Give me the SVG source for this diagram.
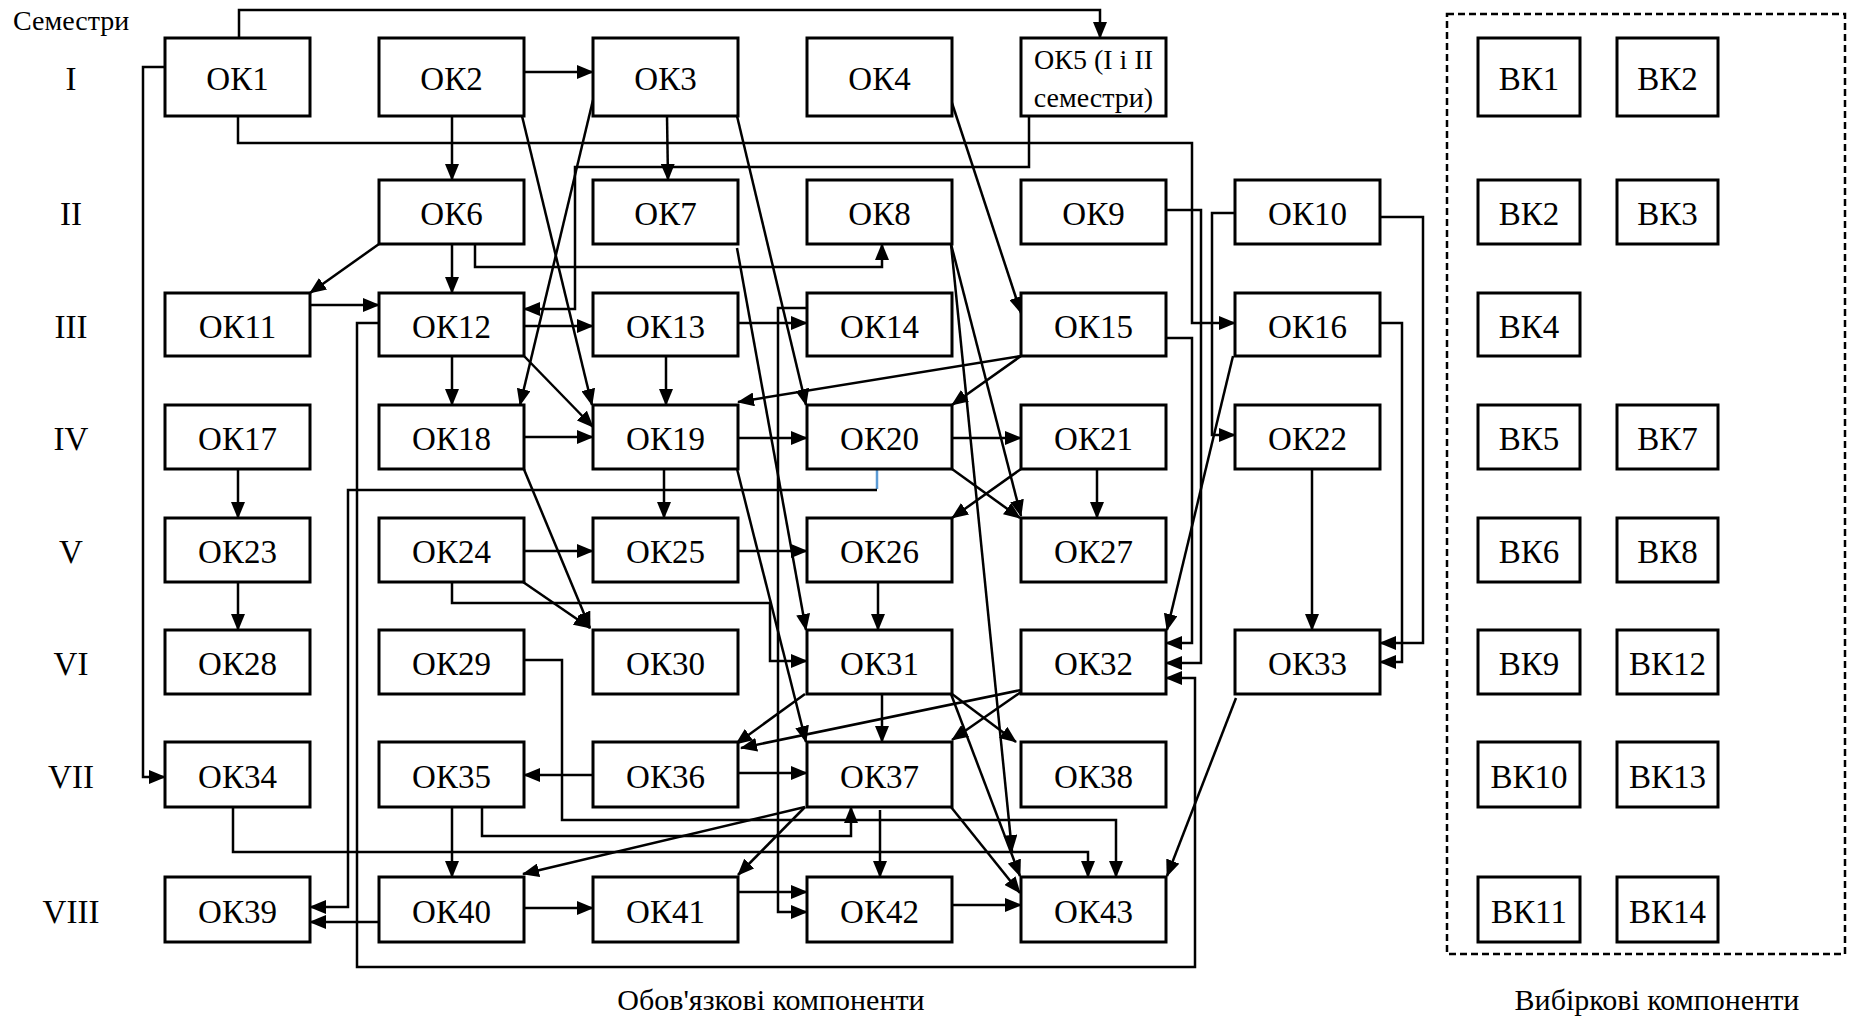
<svg xmlns="http://www.w3.org/2000/svg" width="1849" height="1016" viewBox="0 0 1849 1016">
<style>
.box{fill:#fff;stroke:#000;stroke-width:3}
.lbl{font-family:"Liberation Serif","Times New Roman",serif;font-size:33px;text-anchor:middle;fill:#000}
.sm{font-family:"Liberation Serif","Times New Roman",serif;font-size:28px;text-anchor:middle;fill:#000}
.sem{font-family:"Liberation Serif","Times New Roman",serif;font-size:33px;text-anchor:middle;fill:#000}
.cap{font-family:"Liberation Serif","Times New Roman",serif;font-size:30px;text-anchor:middle;fill:#000}
.c{fill:none;stroke:#000;stroke-width:2.5;marker-end:url(#ah)}
.n{fill:none;stroke:#000;stroke-width:2.5}
</style>
<defs>
<marker id="ah" markerUnits="userSpaceOnUse" markerWidth="17" markerHeight="14" refX="16" refY="7" orient="auto">
<path d="M0,0 L17,7 L0,14 z" fill="#000"/>
</marker>
</defs>
<rect x="0" y="0" width="1849" height="1016" fill="#fff"/>

<g id="semesters">
<text x="13" y="30" style="font-family:'Liberation Serif','Times New Roman',serif;font-size:28px;fill:#000">Семестри</text>
<text class="sem" x="71" y="90">I</text>
<text class="sem" x="71" y="225">II</text>
<text class="sem" x="71" y="338">III</text>
<text class="sem" x="71" y="450">IV</text>
<text class="sem" x="71" y="563">V</text>
<text class="sem" x="71" y="675">VI</text>
<text class="sem" x="71" y="788">VII</text>
<text class="sem" x="71" y="923">VIII</text>
</g>

<g id="connectors">
<path class="c" d="M239,38 V10 H1100 V38"/>
<path class="c" d="M165,67 H143 V777 H165"/>
<path class="c" d="M238,116 V143 H1192 V323 H1235"/>
<path class="c" d="M524,72 H593"/>
<path class="c" d="M452,116 V180"/>
<path class="c" d="M667,116 L668,180"/>
<path class="c" d="M522,116 L592,405"/>
<path class="c" d="M593,100 L520,405"/>
<path class="c" d="M737,116 L806,405"/>
<path class="c" d="M951,100 L1021,313"/>
<path class="c" d="M1029,116 V167 H575 V309 H524"/>
<path class="c" d="M475,244 V267 H882 V244"/>
<path class="c" d="M379,244 L310,293"/>
<path class="c" d="M452,244 V293"/>
<path class="c" d="M737,248 L806,630"/>
<path class="c" d="M951,244 L1021,516"/>
<path class="c" d="M951,244 L1012,851"/>
<path class="c" d="M1166,210 H1201 V663 H1166"/>
<path class="c" d="M1235,213 H1212 V435 H1235"/>
<path class="c" d="M1380,217 H1423 V643 H1380"/>
<path class="c" d="M310,305 H379"/>
<path class="c" d="M524,326 H593"/>
<path class="c" d="M452,356 V405"/>
<path class="c" d="M524,356 L593,427"/>
<path class="c" d="M379,323 H357 V967 H1195 V678 H1166"/>
<path class="c" d="M738,323 H807"/>
<path class="c" d="M666,356 V405"/>
<path class="c" d="M807,308 H778 V912 H807"/>
<path class="c" d="M1021,356 L738,402"/>
<path class="c" d="M1021,356 L952,405"/>
<path class="c" d="M1166,338 H1192 V643 H1166"/>
<path class="c" d="M1233,356 L1167,630"/>
<path class="c" d="M1380,323 H1402 V662 H1380"/>
<path class="c" d="M238,469 V518"/>
<path class="c" d="M524,437 H593"/>
<path class="c" d="M523,467 L590,628"/>
<path class="c" d="M738,438 H807"/>
<path class="c" d="M664,469 V518"/>
<path class="c" d="M737,469 L806,742"/>
<path class="c" d="M952,438 H1021"/>
<path class="c" d="M952,469 L1020,518"/>
<line x1="877" y1="469" x2="877" y2="489" stroke="#5B9BD5" stroke-width="2.5"/>
<path class="c" d="M877,490 H348 V907 H310"/>
<path class="c" d="M1021,469 L952,518"/>
<path class="c" d="M1097,469 V518"/>
<path class="c" d="M1312,469 V630"/>
<path class="c" d="M238,582 V630"/>
<path class="c" d="M524,551 H593"/>
<path class="c" d="M523,582 L590,628"/>
<path class="c" d="M452,582 V603 H770 V661 H807"/>
<path class="c" d="M738,551 H807"/>
<path class="c" d="M878,582 V630"/>
<path class="c" d="M524,660 H562 V820 H1116 V877"/>
<path class="c" d="M805,694 L736,744"/>
<path class="c" d="M882,694 V742"/>
<path class="c" d="M952,694 L1016,742"/>
<path class="c" d="M951,694 L1020,876"/>
<path class="c" d="M1021,690 L741,748"/>
<path class="c" d="M1021,692 L952,740"/>
<path class="c" d="M1236,698 L1167,876"/>
<path class="c" d="M233,807 V852 H1088 V877"/>
<path class="c" d="M482,807 V836 H851 V807"/>
<path class="c" d="M452,807 V877"/>
<path class="c" d="M593,775 H524"/>
<path class="c" d="M738,773 H807"/>
<path class="c" d="M805,807 L523,874"/>
<path class="c" d="M805,807 L738,875"/>
<path class="c" d="M880,810 V877"/>
<path class="c" d="M951,807 L1020,893"/>
<path class="c" d="M379,922 H310"/>
<path class="c" d="M524,908 H593"/>
<path class="c" d="M738,892 H807"/>
<path class="c" d="M952,905 H1021"/>
</g>

<g id="OK1"><rect class="box" x="165" y="38" width="145" height="78"/><text class="lbl" x="237.5" y="90">ОК1</text></g>
<g id="OK2"><rect class="box" x="379" y="38" width="145" height="78"/><text class="lbl" x="451.5" y="90">ОК2</text></g>
<g id="OK3"><rect class="box" x="593" y="38" width="145" height="78"/><text class="lbl" x="665.5" y="90">ОК3</text></g>
<g id="OK4"><rect class="box" x="807" y="38" width="145" height="78"/><text class="lbl" x="879.5" y="90">ОК4</text></g>
<g id="OK5"><rect class="box" x="1021" y="38" width="145" height="78"/><text class="sm" x="1093.5" y="69">ОК5 (І і ІІ</text><text class="sm" x="1093.5" y="107">семестри)</text></g>

<g id="OK6"><rect class="box" x="379" y="180" width="145" height="64"/><text class="lbl" x="451.5" y="225">ОК6</text></g>
<g id="OK7"><rect class="box" x="593" y="180" width="145" height="64"/><text class="lbl" x="665.5" y="225">ОК7</text></g>
<g id="OK8"><rect class="box" x="807" y="180" width="145" height="64"/><text class="lbl" x="879.5" y="225">ОК8</text></g>
<g id="OK9"><rect class="box" x="1021" y="180" width="145" height="64"/><text class="lbl" x="1093.5" y="225">ОК9</text></g>
<g id="OK10"><rect class="box" x="1235" y="180" width="145" height="64"/><text class="lbl" x="1307.5" y="225">ОК10</text></g>

<g id="OK11"><rect class="box" x="165" y="293" width="145" height="63"/><text class="lbl" x="237.5" y="338">ОК11</text></g>
<g id="OK12"><rect class="box" x="379" y="293" width="145" height="63"/><text class="lbl" x="451.5" y="338">ОК12</text></g>
<g id="OK13"><rect class="box" x="593" y="293" width="145" height="63"/><text class="lbl" x="665.5" y="338">ОК13</text></g>
<g id="OK14"><rect class="box" x="807" y="293" width="145" height="63"/><text class="lbl" x="879.5" y="338">ОК14</text></g>
<g id="OK15"><rect class="box" x="1021" y="293" width="145" height="63"/><text class="lbl" x="1093.5" y="338">ОК15</text></g>
<g id="OK16"><rect class="box" x="1235" y="293" width="145" height="63"/><text class="lbl" x="1307.5" y="338">ОК16</text></g>

<g id="OK17"><rect class="box" x="165" y="405" width="145" height="64"/><text class="lbl" x="237.5" y="450">ОК17</text></g>
<g id="OK18"><rect class="box" x="379" y="405" width="145" height="64"/><text class="lbl" x="451.5" y="450">ОК18</text></g>
<g id="OK19"><rect class="box" x="593" y="405" width="145" height="64"/><text class="lbl" x="665.5" y="450">ОК19</text></g>
<g id="OK20"><rect class="box" x="807" y="405" width="145" height="64"/><text class="lbl" x="879.5" y="450">ОК20</text></g>
<g id="OK21"><rect class="box" x="1021" y="405" width="145" height="64"/><text class="lbl" x="1093.5" y="450">ОК21</text></g>
<g id="OK22"><rect class="box" x="1235" y="405" width="145" height="64"/><text class="lbl" x="1307.5" y="450">ОК22</text></g>

<g id="OK23"><rect class="box" x="165" y="518" width="145" height="64"/><text class="lbl" x="237.5" y="563">ОК23</text></g>
<g id="OK24"><rect class="box" x="379" y="518" width="145" height="64"/><text class="lbl" x="451.5" y="563">ОК24</text></g>
<g id="OK25"><rect class="box" x="593" y="518" width="145" height="64"/><text class="lbl" x="665.5" y="563">ОК25</text></g>
<g id="OK26"><rect class="box" x="807" y="518" width="145" height="64"/><text class="lbl" x="879.5" y="563">ОК26</text></g>
<g id="OK27"><rect class="box" x="1021" y="518" width="145" height="64"/><text class="lbl" x="1093.5" y="563">ОК27</text></g>

<g id="OK28"><rect class="box" x="165" y="630" width="145" height="64"/><text class="lbl" x="237.5" y="675">ОК28</text></g>
<g id="OK29"><rect class="box" x="379" y="630" width="145" height="64"/><text class="lbl" x="451.5" y="675">ОК29</text></g>
<g id="OK30"><rect class="box" x="593" y="630" width="145" height="64"/><text class="lbl" x="665.5" y="675">ОК30</text></g>
<g id="OK31"><rect class="box" x="807" y="630" width="145" height="64"/><text class="lbl" x="879.5" y="675">ОК31</text></g>
<g id="OK32"><rect class="box" x="1021" y="630" width="145" height="64"/><text class="lbl" x="1093.5" y="675">ОК32</text></g>
<g id="OK33"><rect class="box" x="1235" y="630" width="145" height="64"/><text class="lbl" x="1307.5" y="675">ОК33</text></g>

<g id="OK34"><rect class="box" x="165" y="742" width="145" height="65"/><text class="lbl" x="237.5" y="788">ОК34</text></g>
<g id="OK35"><rect class="box" x="379" y="742" width="145" height="65"/><text class="lbl" x="451.5" y="788">ОК35</text></g>
<g id="OK36"><rect class="box" x="593" y="742" width="145" height="65"/><text class="lbl" x="665.5" y="788">ОК36</text></g>
<g id="OK37"><rect class="box" x="807" y="742" width="145" height="65"/><text class="lbl" x="879.5" y="788">ОК37</text></g>
<g id="OK38"><rect class="box" x="1021" y="742" width="145" height="65"/><text class="lbl" x="1093.5" y="788">ОК38</text></g>

<g id="OK39"><rect class="box" x="165" y="877" width="145" height="65"/><text class="lbl" x="237.5" y="923">ОК39</text></g>
<g id="OK40"><rect class="box" x="379" y="877" width="145" height="65"/><text class="lbl" x="451.5" y="923">ОК40</text></g>
<g id="OK41"><rect class="box" x="593" y="877" width="145" height="65"/><text class="lbl" x="665.5" y="923">ОК41</text></g>
<g id="OK42"><rect class="box" x="807" y="877" width="145" height="65"/><text class="lbl" x="879.5" y="923">ОК42</text></g>
<g id="OK43"><rect class="box" x="1021" y="877" width="145" height="65"/><text class="lbl" x="1093.5" y="923">ОК43</text></g>

<g id="elective-group">
<rect x="1447" y="14" width="398" height="940" fill="none" stroke="#000" stroke-width="2.5" stroke-dasharray="7 4"/>
</g>
<g id="VK1"><rect class="box" x="1478" y="38" width="102" height="78"/><text class="lbl" x="1529" y="90">ВК1</text></g>
<g id="VK2a"><rect class="box" x="1617" y="38" width="101" height="78"/><text class="lbl" x="1667.5" y="90">ВК2</text></g>
<g id="VK2b"><rect class="box" x="1478" y="180" width="102" height="64"/><text class="lbl" x="1529" y="225">ВК2</text></g>
<g id="VK3"><rect class="box" x="1617" y="180" width="101" height="64"/><text class="lbl" x="1667.5" y="225">ВК3</text></g>
<g id="VK4"><rect class="box" x="1478" y="293" width="102" height="63"/><text class="lbl" x="1529" y="338">ВК4</text></g>
<g id="VK5"><rect class="box" x="1478" y="405" width="102" height="64"/><text class="lbl" x="1529" y="450">ВК5</text></g>
<g id="VK7"><rect class="box" x="1617" y="405" width="101" height="64"/><text class="lbl" x="1667.5" y="450">ВК7</text></g>
<g id="VK6"><rect class="box" x="1478" y="518" width="102" height="64"/><text class="lbl" x="1529" y="563">ВК6</text></g>
<g id="VK8"><rect class="box" x="1617" y="518" width="101" height="64"/><text class="lbl" x="1667.5" y="563">ВК8</text></g>
<g id="VK9"><rect class="box" x="1478" y="630" width="102" height="64"/><text class="lbl" x="1529" y="675">ВК9</text></g>
<g id="VK12"><rect class="box" x="1617" y="630" width="101" height="64"/><text class="lbl" x="1667.5" y="675">ВК12</text></g>
<g id="VK10"><rect class="box" x="1478" y="742" width="102" height="65"/><text class="lbl" x="1529" y="788">ВК10</text></g>
<g id="VK13"><rect class="box" x="1617" y="742" width="101" height="65"/><text class="lbl" x="1667.5" y="788">ВК13</text></g>
<g id="VK11"><rect class="box" x="1478" y="877" width="102" height="65"/><text class="lbl" x="1529" y="923">ВК11</text></g>
<g id="VK14"><rect class="box" x="1617" y="877" width="101" height="65"/><text class="lbl" x="1667.5" y="923">ВК14</text></g>

<g id="captions">
<text class="cap" x="771" y="1010">Обов'язкові компоненти</text>
<text class="cap" x="1657" y="1010">Вибіркові компоненти</text>
</g>
</svg>
